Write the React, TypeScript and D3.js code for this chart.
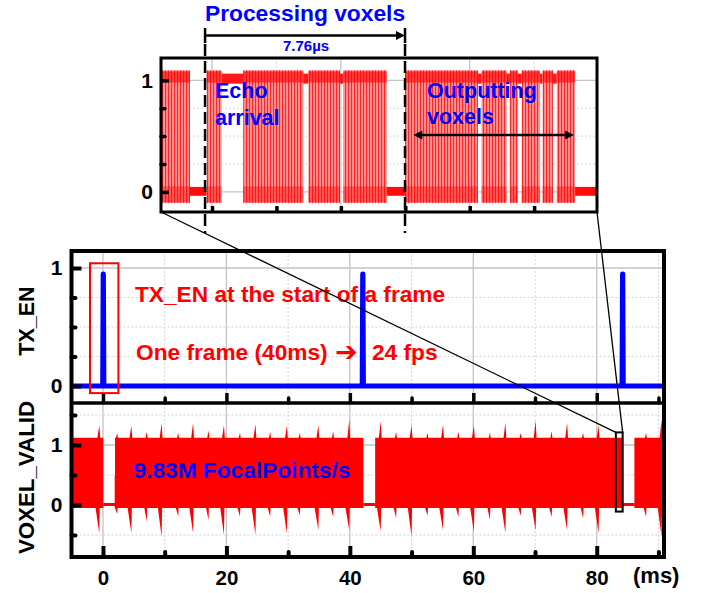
import { useEffect, useRef } from "react";
import * as d3 from "d3";

// ---- main time axis (ms) ----
const X_MAJOR = [0, 20, 40, 60, 80];
const X_MINOR = [10, 30, 50, 70, 90];
const TX_Y_MAJOR = [0, 1];
const TX_Y_MINOR = [0.25, 0.5, 0.75];
const VOX_Y_MAJOR = [0, 1];
const VOX_Y_MINOR = [-0.5, 0.5, 1.5];

// TX_EN pulse at the start of each frame
const TX_PULSE_MS = [0.05, 42.1, 84.2];
const TX_PULSE_HEIGHT = [0.95, 0.95, 0.95];

// VOXEL_VALID: stretches where the signal toggles (ms), flat at 0 between them
const VOX_BLOCK_START = [-5.1, 1.95, 44.1, 86.1];
const VOX_BLOCK_END = [0.05, 42.2, 84.3, 90.9];
const VOX_TOP = 1.12;
const VOX_BOTTOM = -0.05;
// bursts roughly every 5 ms: spike above, dip below
const BURST_MS = [-0.6, 4.6, 9.5, 14.6, 19.6, 24.7, 29.8, 34.9, 39.9, 45.0, 50.0, 55.1, 60.1, 65.2, 70.1, 75.2, 80.3, 90.5];
const BURST_PEAK = [1.33, 1.32, 1.37, 1.37, 1.33, 1.35, 1.32, 1.33, 1.42, 1.4, 1.33, 1.34, 1.33, 1.37, 1.41, 1.37, 1.33, 1.42];
const BURST_DIP = [-0.47, -0.47, -0.53, -0.47, -0.5, -0.5, -0.47, -0.42, -0.42, -0.44, -0.53, -0.42, -0.44, -0.47, -0.43, -0.42, -0.47, -0.53];
// smaller bumps half way between bursts
const MINOR_MS = [2.3, 7.1, 12.2, 17.1, 22.2, 27.1, 31.9, 37.3, 47.5, 52.6, 57.6, 62.7, 67.7, 72.7, 77.8, 88.0];
const MINOR_PEAK = [1.2, 1.22, 1.2, 1.24, 1.2, 1.22, 1.2, 1.23, 1.22, 1.2, 1.22, 1.21, 1.2, 1.23, 1.2, 1.2];
const MINOR_DIP = [-0.15, -0.28, -0.19, -0.25, -0.19, -0.19, -0.17, -0.2, -0.22, -0.18, -0.2, -0.25, -0.18, -0.2, -0.22, -0.2];

// zoomed window in the VOXEL panel (ms, value)
const ZOOM_MS = [83.1, 84.2];
const ZOOM_VAL = [-0.11, 1.21];
// red box round the first TX pulse
const TXBOX_MS = [-2.1, 2.5];
const TXBOX_VAL = [-0.06, 1.04];

// ---- inset (µs) ----
const IN_X_TICKS = [2.5, 5, 7.5, 10, 12.5, 15];
const IN_Y_MAJOR = [0, 1];
const IN_Y_MINOR = [0.25, 0.5, 0.75];
const IN_EDGES = [0.52, 1.645, 2.29, 2.87, 3.71, 6.04, 6.24, 7.47, 7.59, 9.28, 9.99, 12.82, 12.96, 13.93, 14.06, 14.37, 14.52, 15.23, 15.33, 15.73, 15.88, 16.59, 17.44];
const IN_STATE = ["toggle", "low", "toggle", "high", "toggle", "high", "toggle", "high", "toggle", "low", "toggle", "high", "toggle", "high", "toggle", "high", "toggle", "high", "toggle", "high", "toggle", "low"];
const PROC_US = [2.23, 9.99];
const OUTPUT_US = [10.31, 16.55];

export default function App() {
  const svgRef = useRef<SVGSVGElement | null>(null);

  useEffect(() => {
    if (!svgRef.current) return;
    const W = 709, H = 593;
    const svg = d3.select(svgRef.current);
    svg.selectAll("*").remove();
    svg.attr("width", W).attr("height", H).attr("viewBox", `0 0 ${W} ${H}`);

    const FONT = "'Liberation Sans', Arial, Helvetica, sans-serif";
    const BLUE = "#0000ff", RED = "#ff0000";
    const SOLID = "#c4c4c4", DOT = "#d4d4d4";

    svg.append("rect").attr("width", W).attr("height", H).attr("fill", "#fff");

    // main panels
    const L = 71.5, R = 664, T = 251, MID = 403, B = 557;
    const x = d3.scaleLinear().domain([-5.1, 90.9]).range([L, R]);
    const yTx = d3.scaleLinear().domain([-0.144, 1.144]).range([MID, T]);
    const yVox = d3.scaleLinear().domain([-0.867, 1.7]).range([B, MID]);

    // inset
    const IL = 161, IR = 597, IT = 58, IB = 212;
    const xIn = d3.scaleLinear().domain([0.52, 17.44]).range([IL, IR]);
    const yIn = d3.scaleLinear().domain([-0.18, 1.2]).range([IB, IT]);

    const defs = svg.append("defs");
    const clip = (id: string, x0: number, y0: number, w: number, h: number) =>
      defs.append("clipPath").attr("id", id).append("rect")
        .attr("x", x0).attr("y", y0).attr("width", w).attr("height", h);
    clip("c-tx", L, T, R - L, MID - T);
    clip("c-vox", L, MID, R - L, B - MID);
    clip("c-in", IL, IT, IR - IL, IB - IT);

    const pat = defs.append("pattern").attr("id", "tog")
      .attr("patternUnits", "userSpaceOnUse").attr("width", 3).attr("height", 8);
    pat.append("rect").attr("width", 3).attr("height", 8).attr("fill", "#ff9494");
    pat.append("rect").attr("width", 1.1).attr("height", 8).attr("fill", "#ff2626");

    // ---- grids ----
    const vGrid = (vals: number[], sx: any, y0: number, y1: number, dotted: boolean) => {
      svg.append("g").selectAll("line").data(vals).join("line")
        .attr("x1", (d) => sx(d)).attr("x2", (d) => sx(d)).attr("y1", y0).attr("y2", y1)
        .attr("stroke", dotted ? DOT : SOLID).attr("stroke-width", dotted ? 1 : 1.3)
        .attr("stroke-dasharray", dotted ? "2,2" : null);
    };
    const hGrid = (vals: number[], sy: any, x0: number, x1: number, dotted: boolean) => {
      svg.append("g").selectAll("line").data(vals).join("line")
        .attr("y1", (d) => sy(d)).attr("y2", (d) => sy(d)).attr("x1", x0).attr("x2", x1)
        .attr("stroke", dotted ? DOT : SOLID).attr("stroke-width", dotted ? 1 : 1.3)
        .attr("stroke-dasharray", dotted ? "2,2" : null);
    };
    vGrid(X_MAJOR, x, T, B, false);
    vGrid(X_MINOR, x, T, B, true);
    hGrid(TX_Y_MAJOR, yTx, L, R, false);
    hGrid(TX_Y_MINOR, yTx, L, R, true);
    hGrid(VOX_Y_MAJOR, yVox, L, R, false);
    hGrid(VOX_Y_MINOR, yVox, L, R, true);

    vGrid(IN_X_TICKS.filter((_, i) => i % 2 === 0), xIn, IT, IB, false);
    vGrid(IN_X_TICKS.filter((_, i) => i % 2 === 1), xIn, IT, IB, true);
    hGrid(IN_Y_MAJOR, yIn, IL, IR, false);
    hGrid(IN_Y_MINOR, yIn, IL, IR, true);

    // ---- TX_EN ----
    const txPts: [number, number][] = [[-5.1, 0]];
    TX_PULSE_MS.forEach((t, i) => {
      txPts.push([t - 0.1, 0], [t - 0.02, TX_PULSE_HEIGHT[i]], [t + 0.02, TX_PULSE_HEIGHT[i]], [t + 0.1, 0]);
    });
    txPts.push([90.9, 0]);
    svg.append("path").attr("clip-path", "url(#c-tx)")
      .datum(txPts)
      .attr("d", d3.line<[number, number]>().x((d) => x(d[0])).y((d) => yTx(d[1])) as any)
      .attr("fill", "none").attr("stroke", BLUE).attr("stroke-width", 5)
      .attr("stroke-linejoin", "round");

    // ---- VOXEL_VALID ----
    const voxG = svg.append("g").attr("clip-path", "url(#c-vox)");
    // flat stretches at 0
    VOX_BLOCK_END.slice(0, -1).forEach((e, i) => {
      voxG.append("line")
        .attr("x1", x(e)).attr("x2", x(VOX_BLOCK_START[i + 1]))
        .attr("y1", yVox(0.01)).attr("y2", yVox(0.01))
        .attr("stroke", RED).attr("stroke-width", 3);
    });
    const upper = d3.area<[number, number]>().x((d) => x(d[0])).y0(yVox(0.5)).y1((d) => yVox(d[1]));
    VOX_BLOCK_START.forEach((a, bi) => {
      const b = VOX_BLOCK_END[bi];
      const top: [number, number][] = [[a, VOX_TOP], [b, VOX_TOP]];
      const bot: [number, number][] = [[a, VOX_BOTTOM], [b, VOX_BOTTOM]];
      BURST_MS.forEach((t, i) => {
        if (t <= a || t >= b) return;
        top.push([t - 0.3, VOX_TOP], [t, BURST_PEAK[i]], [t + 0.15, VOX_TOP]);
        bot.push([t - 0.6, VOX_BOTTOM], [t, BURST_DIP[i]], [t + 0.08, VOX_BOTTOM]);
      });
      MINOR_MS.forEach((t, i) => {
        if (t <= a || t >= b) return;
        top.push([t - 0.2, VOX_TOP], [t, MINOR_PEAK[i]], [t + 0.12, VOX_TOP]);
        bot.push([t - 0.4, VOX_BOTTOM], [t, MINOR_DIP[i]], [t + 0.06, VOX_BOTTOM]);
      });
      top.sort((p, q) => p[0] - q[0]);
      bot.sort((p, q) => p[0] - q[0]);
      voxG.append("path").datum(top).attr("d", upper as any).attr("fill", RED);
      voxG.append("path").datum(bot).attr("d", upper as any).attr("fill", RED);
    });

    // ---- inset signal ----
    const inG = svg.append("g").attr("clip-path", "url(#c-in)");
    IN_STATE.forEach((s, i) => {
      const a = xIn(IN_EDGES[i]), b = xIn(IN_EDGES[i + 1]);
      const band = (v0: number, v1: number, fill: string, op: number) =>
        inG.append("rect").attr("x", a).attr("width", b - a)
          .attr("y", yIn(v1)).attr("height", yIn(v0) - yIn(v1))
          .attr("fill", fill).attr("opacity", op);
      if (s === "toggle") {
        band(-0.1, 1.09, "url(#tog)", 1);
        band(0.98, 1.08, RED, 0.6);
        band(-0.09, 0.05, RED, 0.4);
      } else if (s === "high") {
        band(0.97, 1.06, RED, 0.9);
      } else {
        band(-0.035, 0.045, RED, 0.95);
      }
    });

    // ---- frames ----
    svg.append("rect").attr("x", L).attr("y", T).attr("width", R - L).attr("height", B - T)
      .attr("fill", "none").attr("stroke", "#000").attr("stroke-width", 4);
    svg.append("line").attr("x1", L).attr("x2", R).attr("y1", MID).attr("y2", MID)
      .attr("stroke", "#000").attr("stroke-width", 3.5);
    svg.append("rect").attr("x", IL).attr("y", IT).attr("width", IR - IL).attr("height", IB - IT)
      .attr("fill", "none").attr("stroke", "#000").attr("stroke-width", 3);

    // ---- axes ----
    const styleAxis = (sel: any, width: number, cap: string, size = 20) => {
      sel.select(".domain").remove();
      sel.selectAll(".tick line").attr("stroke", "#000").attr("stroke-width", width).attr("stroke-linecap", cap);
      sel.selectAll("text").attr("font-family", FONT).attr("font-weight", "bold")
        .attr("font-size", size).attr("fill", "#000");
    };
    const noLabel = () => "";

    svg.append("g").attr("transform", `translate(0,${B})`)
      .call(d3.axisBottom(x).tickValues(X_MAJOR).tickSize(-11).tickPadding(13).tickFormat(d3.format("d")) as any)
      .call((s: any) => styleAxis(s, 4, "butt", 20.5));
    svg.append("g").attr("transform", `translate(0,${B})`)
      .call(d3.axisBottom(x).tickValues(X_MINOR).tickSize(-5).tickFormat(noLabel) as any)
      .call((s: any) => styleAxis(s, 4, "round"));
    svg.append("g").attr("transform", `translate(0,${MID})`)
      .call(d3.axisBottom(x).tickValues(X_MAJOR).tickSize(-10).tickFormat(noLabel) as any)
      .call((s: any) => styleAxis(s, 3.5, "butt"));
    svg.append("g").attr("transform", `translate(0,${MID})`)
      .call(d3.axisBottom(x).tickValues(X_MINOR).tickSize(-5).tickFormat(noLabel) as any)
      .call((s: any) => styleAxis(s, 3.5, "round"));

    svg.append("g").attr("transform", `translate(${L},0)`)
      .call(d3.axisLeft(yTx).tickValues(TX_Y_MAJOR).tickSize(-10).tickPadding(9).tickFormat(d3.format("d")) as any)
      .call((s: any) => styleAxis(s, 4, "butt", 21));
    svg.append("g").attr("transform", `translate(${L},0)`)
      .call(d3.axisLeft(yTx).tickValues(TX_Y_MINOR).tickSize(-4).tickFormat(noLabel) as any)
      .call((s: any) => styleAxis(s, 4, "round"));
    svg.append("g").attr("transform", `translate(${L},0)`)
      .call(d3.axisLeft(yVox).tickValues(VOX_Y_MAJOR).tickSize(-10).tickPadding(9).tickFormat(d3.format("d")) as any)
      .call((s: any) => styleAxis(s, 4, "butt", 21));
    svg.append("g").attr("transform", `translate(${L},0)`)
      .call(d3.axisLeft(yVox).tickValues(VOX_Y_MINOR).tickSize(-4).tickFormat(noLabel) as any)
      .call((s: any) => styleAxis(s, 4, "round"));

    svg.append("g").attr("transform", `translate(${IL},0)`)
      .call(d3.axisLeft(yIn).tickValues(IN_Y_MAJOR).tickSize(-8).tickPadding(8).tickFormat(d3.format("d")) as any)
      .call((s: any) => styleAxis(s, 3.5, "butt", 21));
    svg.append("g").attr("transform", `translate(${IL},0)`)
      .call(d3.axisLeft(yIn).tickValues(IN_Y_MINOR).tickSize(-4).tickFormat(noLabel) as any)
      .call((s: any) => styleAxis(s, 3.5, "round"));
    svg.append("g").attr("transform", `translate(0,${IB})`)
      .call(d3.axisBottom(xIn).tickValues(IN_X_TICKS).tickSize(-6).tickFormat(noLabel) as any)
      .call((s: any) => styleAxis(s, 3.5, "butt"));

    // ---- text helpers ----
    const label = (tx: string, px: number, py: number, size: number, fill: string, anchor = "start", family = FONT) =>
      svg.append("text").attr("x", px).attr("y", py).text(tx)
        .attr("font-family", family).attr("font-weight", "bold").attr("font-size", size)
        .attr("fill", fill).attr("text-anchor", anchor);

    label("(ms)", 633, 583, 22, "#000");
    label("TX_EN", 0, 0, 21.5, "#000", "middle").attr("transform", "translate(33.5,321) rotate(-90)");
    label("VOXEL_VALID", 0, 0, 22.3, "#000", "middle").attr("transform", "translate(33.5,477.5) rotate(-90)");

    // TX box and annotations
    svg.append("rect")
      .attr("x", x(TXBOX_MS[0])).attr("y", yTx(TXBOX_VAL[1]))
      .attr("width", x(TXBOX_MS[1]) - x(TXBOX_MS[0])).attr("height", yTx(TXBOX_VAL[0]) - yTx(TXBOX_VAL[1]))
      .attr("fill", "none").attr("stroke", RED).attr("stroke-width", 2);
    label("TX_EN at the start of a frame", 135, 302, 22.7, RED);
    label("One frame (40ms)", 136, 360, 22.7, RED);
    label("\u2794", 335, 361, 27, RED, "start", "'DejaVu Sans', sans-serif");
    label("24 fps", 372, 360, 22.7, RED);
    label("9.83M FocalPoints/s", 133.5, 477.5, 22.7, BLUE);

    // zoom window in VOXEL panel
    const zx0 = x(ZOOM_MS[0]), zx1 = x(ZOOM_MS[1]);
    const zy0 = yVox(ZOOM_VAL[1]), zy1 = yVox(ZOOM_VAL[0]);
    svg.append("rect").attr("x", zx0).attr("y", zy0).attr("width", zx1 - zx0).attr("height", zy1 - zy0)
      .attr("fill", "none").attr("stroke", "#000").attr("stroke-width", 2);

    // ---- inset annotations ----
    const p0 = xIn(PROC_US[0]), p1 = xIn(PROC_US[1]);
    [p0, p1].forEach((px) => {
      svg.append("line").attr("x1", px).attr("x2", px).attr("y1", 44).attr("y2", 233)
        .attr("stroke", "#000").attr("stroke-width", 2.5).attr("stroke-dasharray", "12,5");
      svg.append("line").attr("x1", px).attr("x2", px).attr("y1", 28).attr("y2", 43)
        .attr("stroke", "#000").attr("stroke-width", 2.5);
    });
    const ay = 35.5;
    svg.append("line").attr("x1", p0).attr("x2", p1 - 6).attr("y1", ay).attr("y2", ay)
      .attr("stroke", "#000").attr("stroke-width", 2.5);
    svg.append("path").attr("d", `M${p1},${ay} L${p1 - 9},${ay - 4.5} L${p1 - 9},${ay + 4.5} Z`).attr("fill", "#000");
    label("Processing voxels", (p0 + p1) / 2, 21, 22.8, BLUE, "middle");
    label("7.76\u00b5s", (p0 + p1) / 2 + 1, 50.5, 15, BLUE, "middle");

    label("Echo", 215, 98, 21.5, BLUE);
    label("arrival", 215, 124.5, 21.5, BLUE);
    label("Outputting", 427, 97.5, 21.5, BLUE);
    label("voxels", 427, 123.5, 21.5, BLUE);

    const o0 = xIn(OUTPUT_US[0]), o1 = xIn(OUTPUT_US[1]);
    const oy = 135;
    svg.append("line").attr("x1", o0 + 6).attr("x2", o1 - 6).attr("y1", oy).attr("y2", oy)
      .attr("stroke", "#000").attr("stroke-width", 2.5);
    svg.append("path").attr("d", `M${o1},${oy} L${o1 - 9},${oy - 4.5} L${o1 - 9},${oy + 4.5} Z`).attr("fill", "#000");
    svg.append("path").attr("d", `M${o0},${oy} L${o0 + 9},${oy - 4.5} L${o0 + 9},${oy + 4.5} Z`).attr("fill", "#000");

    // connectors from inset to zoom window
    svg.append("line").attr("x1", IL).attr("y1", IB).attr("x2", zx0).attr("y2", zy0)
      .attr("stroke", "#000").attr("stroke-width", 1.3);
    svg.append("line").attr("x1", IR).attr("y1", IB).attr("x2", zx1).attr("y2", zy0)
      .attr("stroke", "#000").attr("stroke-width", 1.3);
  }, []);

  return <svg ref={svgRef} style={{ position: "absolute", left: 0, top: 0, display: "block" }} />;
}
